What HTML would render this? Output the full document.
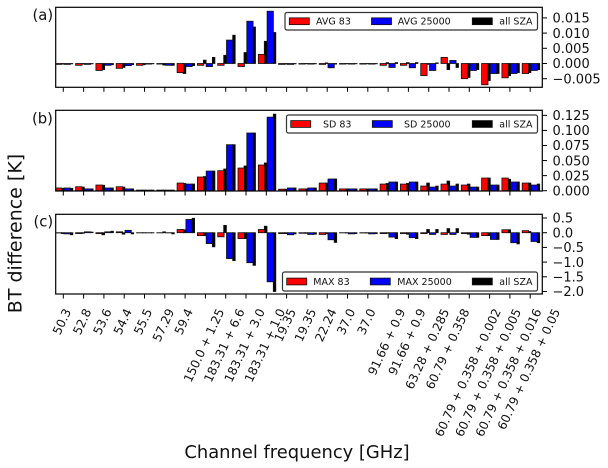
<!DOCTYPE html>
<html>
<head>
<meta charset="utf-8">
<style>
html,body{margin:0;padding:0;background:#fff;}
svg{display:block;font-family:"DejaVu Sans","Liberation Sans",sans-serif;}
</style>
</head>
<body>
<svg id="chart" width="608" height="468" viewBox="0 0 608 468" xmlns="http://www.w3.org/2000/svg">
<defs>
<clipPath id="clip-a"><rect x="55.7" y="7.3" width="486.6" height="80"/></clipPath>
<clipPath id="clip-b"><rect x="55.7" y="110.3" width="486.6" height="80.7"/></clipPath>
<clipPath id="clip-c"><rect x="55.7" y="214.3" width="486.6" height="79.7"/></clipPath>
</defs>
</svg>
<script>
const categories = ["50.3","52.8","53.6","54.4","55.5","57.29","59.4","150.0 + 1.25","183.31 + 6.6","183.31 + 3.0","183.31 + 1.0","19.35","19.35","22.24","37.0","37.0","91.66 + 0.9","91.66 + 0.9","63.28 + 0.285","60.79 + 0.358","60.79 + 0.358 + 0.002","60.79 + 0.358 + 0.005","60.79 + 0.358 + 0.016","60.79 + 0.358 + 0.05"];

const avg83 = [-0.0003,-0.0006,-0.0023,-0.0016,-0.0006,-0.0002,-0.003,-0.0006,-0.0006,-0.001,0.003,-0.0003,-0.0002,-0.0003,-0.0002,-0.0002,-0.0006,-0.0006,-0.004,0.002,-0.005,-0.007,-0.0047,-0.0033];
const avg25000 = [-0.0003,-0.0003,-0.0006,-0.0007,-0.0002,-0.0006,-0.001,-0.001,0.0077,0.0139,0.0172,-0.0003,-0.0002,-0.0014,-0.0002,-0.0002,-0.0013,-0.0014,-0.0023,0.001,-0.0023,-0.0033,-0.0033,-0.0023];
const avgAll83 = [-0.0002,-0.0002,-0.002,-0.0013,-0.0004,-0.0005,-0.0033,0.0011,0.0027,0.0036,0.0073,-0.0002,-0.0001,0.0002,-0.0001,-0.0001,0.0003,0.0003,-0.0003,-0.002,-0.0046,-0.0056,-0.004,-0.003];
const avgAll25000 = [-0.0001,-0.0001,-0.0004,-0.0004,-0.0001,-0.0006,-0.0007,0.002,0.0093,0.012,0.0102,-0.0001,-0.0001,-0.0002,-0.0001,-0.0001,0.0003,0.0003,0.0002,-0.0013,-0.002,-0.0033,-0.003,-0.002];

const sd83 = [0.0045,0.0066,0.0094,0.0066,0.001,0.001,0.0127,0.0227,0.0332,0.0376,0.0426,0.0025,0.003,0.0127,0.003,0.003,0.011,0.011,0.0077,0.011,0.0094,0.021,0.021,0.0127];
const sd25000 = [0.0045,0.003,0.0045,0.003,0.001,0.001,0.011,0.0326,0.0763,0.0957,0.122,0.0045,0.0045,0.0194,0.003,0.003,0.0144,0.0144,0.006,0.0077,0.006,0.0094,0.0144,0.0094];
const sdAll83 = [0.004,0.006,0.009,0.006,0.001,0.001,0.012,0.0235,0.036,0.041,0.046,0.0025,0.003,0.0127,0.003,0.003,0.012,0.012,0.0127,0.016,0.011,0.021,0.019,0.0127];
const sdAll25000 = [0.004,0.003,0.0045,0.003,0.001,0.001,0.011,0.0326,0.0763,0.0957,0.127,0.0045,0.0045,0.0194,0.003,0.003,0.0144,0.0144,0.0077,0.011,0.006,0.0094,0.0144,0.011];

const max83 = [-0.01,-0.03,-0.03,0.03,0,0,0.11,-0.1,-0.14,-0.2,0.11,-0.03,-0.02,-0.06,0,-0.01,-0.03,-0.03,-0.03,-0.06,-0.03,-0.1,0.1,0.07];
const max25000 = [-0.04,0.03,0.03,0.08,0,0,0.45,-0.37,-0.88,-1.02,-1.67,-0.07,-0.06,-0.24,-0.04,-0.04,-0.15,-0.17,-0.06,-0.06,-0.16,-0.23,-0.34,-0.3];
const maxAll83 = [-0.03,-0.02,-0.07,-0.05,0,0.03,0.1,-0.1,0.25,-0.2,0.22,-0.03,-0.02,-0.04,-0.01,-0.01,-0.02,-0.05,0.11,0.14,-0.05,-0.1,0.1,0.04];
const maxAll25000 = [-0.07,0.02,0.05,-0.04,0,-0.04,0.49,-0.48,-0.95,-1.11,-2.0,-0.04,-0.05,-0.33,-0.03,-0.03,-0.2,-0.2,0.11,0.14,-0.16,-0.23,-0.38,-0.34];

const ticksA = ["0.015","0.010","0.005","0.000","\u22120.005"];
const tickValuesA = [0.015,0.01,0.005,0,-0.005];
const ticksB = ["0.125","0.100","0.075","0.050","0.025","0.000"];
const tickValuesB = [0.125,0.1,0.075,0.05,0.025,0];
const ticksC = ["0.5","0.0","\u22120.5","\u22121.0","\u22121.5","\u22122.0"];
const tickValuesC = [0.5,0,-0.5,-1,-1.5,-2];

const svg = document.getElementById('chart');
const NS = 'http://www.w3.org/2000/svg';

function xTick(i){ return 63.3 + i * 20.3; }
function yA(v){ return 63.5 - v * 3040; }
function yB(v){ return 190.7 - v * 602.8; }
function yC(v){ return 232.7 - v * 29.4; }

function make(tag, attrs, parent){
  const el = document.createElementNS(NS, tag);
  for (const k in attrs) el.setAttribute(k, attrs[k]);
  (parent || svg).appendChild(el);
  return el;
}

function barSeries(group, values, yFn, x0, w, fill, stroke, name){
  values.forEach(function(v, i){
    const t = xTick(i);
    const y1 = yFn(v), y2 = yFn(0);
    const el = make('rect', {x:t + x0, y:Math.min(y1,y2), width:w, height:Math.max(Math.abs(y1-y2),0.2), fill:fill, stroke:stroke, 'stroke-width':0.8}, group);
    
    
  });
}

function panel(cfg){
  const g = make('g', {}, svg);
  
  

  const bars = make('g', {'clip-path':'url(#clip-' + cfg.id + ')'}, g);
  
  
  barSeries(bars, cfg.all83, cfg.y, -2.0, 2.7, '#000', '#111', 'bar-all-sza-83');
  barSeries(bars, cfg.all25000, cfg.y, 7.0, 2.5, '#000', '#111', 'bar-all-sza-25000');
  barSeries(bars, cfg.s83, cfg.y, -8.0, 6.4, '#ff0000', '#111', 'bar-83');
  barSeries(bars, cfg.s25000, cfg.y, 0.8, 6.3, '#0000ff', '#111', 'bar-25000');

  const frame = make('rect', {x:55.7, y:cfg.top, width:486.6, height:cfg.bottom-cfg.top, fill:'none', stroke:'#000', 'stroke-width':1.2}, g);
  
  

  categories.forEach(function(c, i){
    const tk = make('line', {x1:xTick(i), x2:xTick(i), y1:cfg.bottom, y2:cfg.bottom+4.5, stroke:'#000', 'stroke-width':1}, g);
    
    
  });

  cfg.tickValues.forEach(function(v, i){
    const yy = cfg.y(v);
    const tk = make('line', {x1:542.3, x2:547, y1:yy, y2:yy, stroke:'#000', 'stroke-width':1}, g);
    
    
    const lb = make('text', {x:552.5, y:yy+4.7, 'font-size':13, fill:'#111'}, g);
    lb.textContent = cfg.tickLabels[i];
    
    
  });

  const pl = make('text', {x:cfg.labelX, y:cfg.labelY, 'font-size':14.8, fill:'#111'}, g);
  pl.textContent = '(' + cfg.id + ')';
  
  

  const L = cfg.legend;
  const lg = make('g', {}, g);
  
  
  make('rect', {x:L.x, y:L.y, width:537.5-L.x, height:L.h, rx:2, ry:2, fill:'#fff', 'fill-opacity':0.9, stroke:'#333', 'stroke-width':1.2}, lg);
  const mid = L.y + L.h/2;
  const entries = [
    {sx:L.s1, fill:'#ff0000', tx:L.t1, text:L.n1},
    {sx:L.s2, fill:'#0000ff', tx:L.t2, text:L.n2},
    {sx:472.3, fill:'#000000', tx:499.3, text:'all SZA'}
  ];
  entries.forEach(function(e, i){
    const sw = make('rect', {x:e.sx, y:mid-3.4, width:20, height:6.8, fill:e.fill, stroke:'#111', 'stroke-width':0.8}, lg);
    
    
    const tx = make('text', {x:e.tx, y:mid+3.4, 'font-size':9.5, fill:'#111'}, lg);
    tx.textContent = e.text;
    
    
  });
}

panel({id:'a', top:7.3, bottom:87.3, y:yA, s83:avg83, s25000:avg25000, all83:avgAll83, all25000:avgAll25000,
  tickValues:tickValuesA, tickLabels:ticksA, labelX:32.5, labelY:20,
  legend:{x:285, y:12.5, h:17.5, s1:289.3, s2:371.5, t1:316, t2:397.7, n1:'AVG 83', n2:'AVG 25000'}});
panel({id:'b', top:110.3, bottom:191, y:yB, s83:sd83, s25000:sd25000, all83:sdAll83, all25000:sdAll25000,
  tickValues:tickValuesB, tickLabels:ticksB, labelX:32, labelY:123.5,
  legend:{x:286.5, y:115, h:18, s1:290.7, s2:372.3, t1:323, t2:404, n1:'SD 83', n2:'SD 25000'}});
panel({id:'c', top:214.3, bottom:294, y:yC, s83:max83, s25000:max25000, all83:maxAll83, all25000:maxAll25000,
  tickValues:tickValuesC, tickLabels:ticksC, labelX:33.5, labelY:226.5,
  legend:{x:282.5, y:272, h:19, s1:286.7, s2:370.3, t1:313.3, t2:397.3, n1:'MAX 83', n2:'MAX 25000'}});

const angle = 65 * Math.PI / 180;
categories.forEach(function(c, i){
  const t = make('text', {x:0, y:0, 'font-size':12.1, fill:'#111', 'text-anchor':'middle'}, svg);
  t.textContent = c;
  
  
  const len = t.getComputedTextLength();
  const h = 12.1;
  const H = len * Math.sin(angle) + h * Math.cos(angle);
  const cx = xTick(i) - 1.6;
  const cy = 306.8 + H / 2;
  t.setAttribute('transform', 'translate(' + cx + ',' + cy + ') rotate(-65) translate(0,' + (h * 0.36) + ')');
});

const xTitle = make('text', {x:297, y:458, 'font-size':17.9, fill:'#111', 'text-anchor':'middle'}, svg);
xTitle.textContent = 'Channel frequency [GHz]';



const yTitle = make('text', {'font-size':19, fill:'#111', 'text-anchor':'middle', transform:'translate(21.5,233.5) rotate(-90)'}, svg);
yTitle.textContent = 'BT difference [K]';


</script>
</body>
</html>
